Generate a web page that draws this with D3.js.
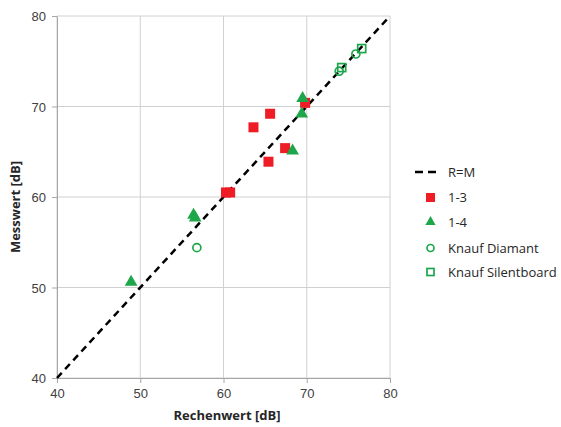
<!DOCTYPE html>
<html>
<head>
<meta charset="utf-8">
<script src="https://cdn.jsdelivr.net/npm/d3@7"></script>
<style>
  body { margin: 0; background: #fff; }
  svg { font-family: "Open Sans", "Liberation Sans", sans-serif; }
</style>
</head>
<body>
<svg id="chart" width="561" height="427"></svg>
<script>
// axis ticks
const xTicks = [40, 50, 60, 70, 80];
const yTicks = [40, 50, 60, 70, 80];

// series (Rechenwert, Messwert)
const s13x = [63.6, 65.6, 67.4, 65.4, 69.8, 60.3, 60.8];
const s13y = [67.7, 69.2, 65.4, 63.9, 70.4, 60.5, 60.5];
const s14x = [69.5, 69.4, 68.3, 56.4, 56.6, 48.9];
const s14y = [70.9, 69.2, 65.1, 58.0, 57.7, 50.6];
const diamantX = [56.8, 73.9, 75.9];
const diamantY = [54.4, 73.9, 75.8];
const silentX = [74.2, 76.6];
const silentY = [74.3, 76.4];
const lineRM = [40, 80];

const svg = d3.select('#chart');
const green = '#1ea64a';
const red = '#ee1c25';

const x = d3.scaleLinear().domain([40, 80]).range([57, 390]);
const y = d3.scaleLinear().domain([40, 80]).range([378, 16]);

// grid
const grid = svg.append('g');
grid.selectAll('.vx').data(xTicks).join('line')
  .attr('x1', d => x(d)).attr('x2', d => x(d))
  .attr('y1', y(40)).attr('y2', y(80))
  .attr('stroke', '#d0d0d0').attr('stroke-width', 1);
grid.selectAll('.hy').data(yTicks).join('line')
  .attr('x1', x(40)).attr('x2', x(80))
  .attr('y1', d => y(d)).attr('y2', d => y(d))
  .attr('stroke', '#d0d0d0').attr('stroke-width', 1);

// axes
const xAxis = svg.append('g')
  .attr('transform', `translate(0,${y(40)})`)
  .call(d3.axisBottom(x).tickValues(xTicks).tickSize(5).tickSizeOuter(0).tickPadding(6));
const yAxis = svg.append('g')
  .attr('transform', `translate(${x(40)},0)`)
  .call(d3.axisLeft(y).tickValues(yTicks).tickSize(5).tickSizeOuter(0).tickPadding(6));
[xAxis, yAxis].forEach(a => {
  a.select('.domain').attr('stroke', '#a6a6a6');
  a.selectAll('.tick line').attr('stroke', '#a6a6a6');
  a.selectAll('.tick text').attr('fill', '#404040').attr('font-size', 13);
});
yAxis.selectAll('.tick text').attr('dy', '0.35em');

// axis titles
svg.append('text')
  .attr('x', 227).attr('y', 420)
  .attr('text-anchor', 'middle')
  .attr('font-size', 13).attr('font-weight', 'bold').attr('fill', '#262626')
  .text('Rechenwert [dB]');
svg.append('text')
  .attr('transform', 'translate(20,207) rotate(-90)')
  .attr('text-anchor', 'middle')
  .attr('font-size', 13).attr('font-weight', 'bold').attr('fill', '#262626')
  .text('Messwert [dB]');

// R=M line
svg.append('line')
  .attr('x1', x(lineRM[0])).attr('y1', y(lineRM[0]))
  .attr('x2', x(lineRM[1])).attr('y2', y(lineRM[1]))
  .attr('stroke', '#000').attr('stroke-width', 2.5)
  .attr('stroke-dasharray', '7,5');

const pts = (xs, ys) => xs.map((v, i) => [v, ys[i]]);
const tri = d3.symbol().type(d3.symbolTriangle).size(70);

// Knauf Diamant
svg.append('g').selectAll('circle').data(pts(diamantX, diamantY)).join('circle')
  .attr('cx', d => x(d[0])).attr('cy', d => y(d[1])).attr('r', 4)
  .attr('fill', 'none').attr('stroke', green).attr('stroke-width', 1.7);
// Knauf Silentboard
svg.append('g').selectAll('rect').data(pts(silentX, silentY)).join('rect')
  .attr('x', d => x(d[0]) - 4).attr('y', d => y(d[1]) - 4)
  .attr('width', 8).attr('height', 8)
  .attr('fill', 'none').attr('stroke', green).attr('stroke-width', 1.7);
// 1-3
svg.append('g').selectAll('rect').data(pts(s13x, s13y)).join('rect')
  .attr('x', d => x(d[0]) - 5).attr('y', d => y(d[1]) - 5)
  .attr('width', 10).attr('height', 10).attr('fill', red);
// 1-4
svg.append('g').selectAll('path').data(pts(s14x, s14y)).join('path')
  .attr('transform', d => `translate(${x(d[0])},${y(d[1])})`)
  .attr('d', tri).attr('fill', green);

// legend
const legend = svg.append('g').attr('font-size', 13).attr('fill', '#262626');
const items = ['R=M', '1-3', '1-4', 'Knauf Diamant', 'Knauf Silentboard'];
const ly = [172, 197, 222, 248, 272];
items.forEach((name, i) => {
  const g = legend.append('g').attr('transform', `translate(0,${ly[i]})`);
  if (i === 0) {
    g.append('line').attr('x1', 415).attr('x2', 441).attr('y1', 0).attr('y2', 0)
      .attr('stroke', '#000').attr('stroke-width', 2.5).attr('stroke-dasharray', '8,5');
  } else if (i === 1) {
    g.append('rect').attr('x', 426).attr('y', -4).attr('width', 9).attr('height', 9).attr('fill', red);
  } else if (i === 2) {
    g.append('path').attr('transform', 'translate(430.5,0)').attr('d', d3.symbol().type(d3.symbolTriangle).size(45)).attr('fill', green);
  } else if (i === 3) {
    g.append('circle').attr('cx', 430.5).attr('cy', 0).attr('r', 3.5)
      .attr('fill', 'none').attr('stroke', green).attr('stroke-width', 1.7);
  } else {
    g.append('rect').attr('x', 427).attr('y', -3.5).attr('width', 7).attr('height', 7)
      .attr('fill', 'none').attr('stroke', green).attr('stroke-width', 1.7);
  }
  g.append('text').attr('x', 448).attr('y', 0).attr('dy', '0.35em').text(name);
});
</script>
</body>
</html>
